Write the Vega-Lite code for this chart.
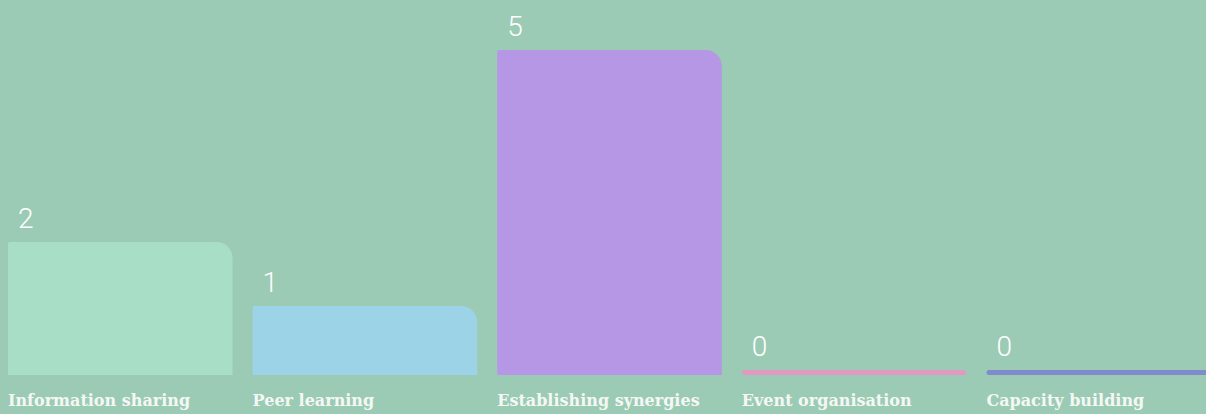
{
  "$schema": "https://vega.github.io/schema/vega-lite/v6.json",
  "width": 1203,
  "height": 414,
  "padding": {"left": 8, "top": 0, "right": 0, "bottom": 0},
  "background": "#9ccbb5",
  "config": {"view": {"stroke": null}},
  "data": {"values": [
    {"category": "Information sharing", "value": 2, "color": "#a7dec5"},
    {"category": "Peer learning", "value": 1, "color": "#9dd3e6"},
    {"category": "Establishing synergies", "value": 5, "color": "#b697e5"},
    {"category": "Event organisation", "value": 0, "color": "#e199c2"},
    {"category": "Capacity building", "value": 0, "color": "#7f8bcc"}
  ]},
  "encoding": {
    "x": {"field": "category", "type": "nominal", "sort": null, "axis": null,
          "scale": {"paddingInner": 0.082, "paddingOuter": 0}}
  },
  "layer": [
    {
      "transform": [{"filter": "datum.value > 0"}],
      "mark": {"type": "bar", "cornerRadiusTopRight": 16, "cornerRadiusTopLeft": 2},
      "encoding": {
        "y": {"field": "value", "type": "quantitative", "axis": null,
              "scale": {"domain": [-0.687, 5.781], "nice": false, "zero": false}},
        "y2": {"datum": -0.078},
        "color": {"field": "color", "type": "nominal", "scale": null, "legend": null}
      }
    },
    {
      "transform": [{"filter": "datum.value == 0"}],
      "mark": {"type": "bar", "cornerRadius": 2.5},
      "encoding": {
        "y": {"field": "value", "type": "quantitative"},
        "y2": {"datum": -0.078},
        "color": {"field": "color", "type": "nominal", "scale": null, "legend": null}
      }
    },
    {
      "mark": {"type": "text", "align": "left", "baseline": "middle", "dx": 10, "dy": -22,
               "font": "Roboto", "fontWeight": 300, "fontSize": 28, "color": "#ffffff"},
      "encoding": {
        "x": {"field": "category", "type": "nominal", "sort": null, "bandPosition": 0},
        "y": {"field": "value", "type": "quantitative"},
        "text": {"field": "value", "type": "quantitative"}
      }
    },
    {
      "mark": {"type": "text", "align": "left", "baseline": "middle",
               "font": "DejaVu Serif", "fontWeight": "bold", "fontSize": 16, "color": "#f4f8f4"},
      "encoding": {
        "x": {"field": "category", "type": "nominal", "sort": null, "bandPosition": 0},
        "y": {"datum": -0.484},
        "text": {"field": "category", "type": "nominal"}
      }
    }
  ]
}
